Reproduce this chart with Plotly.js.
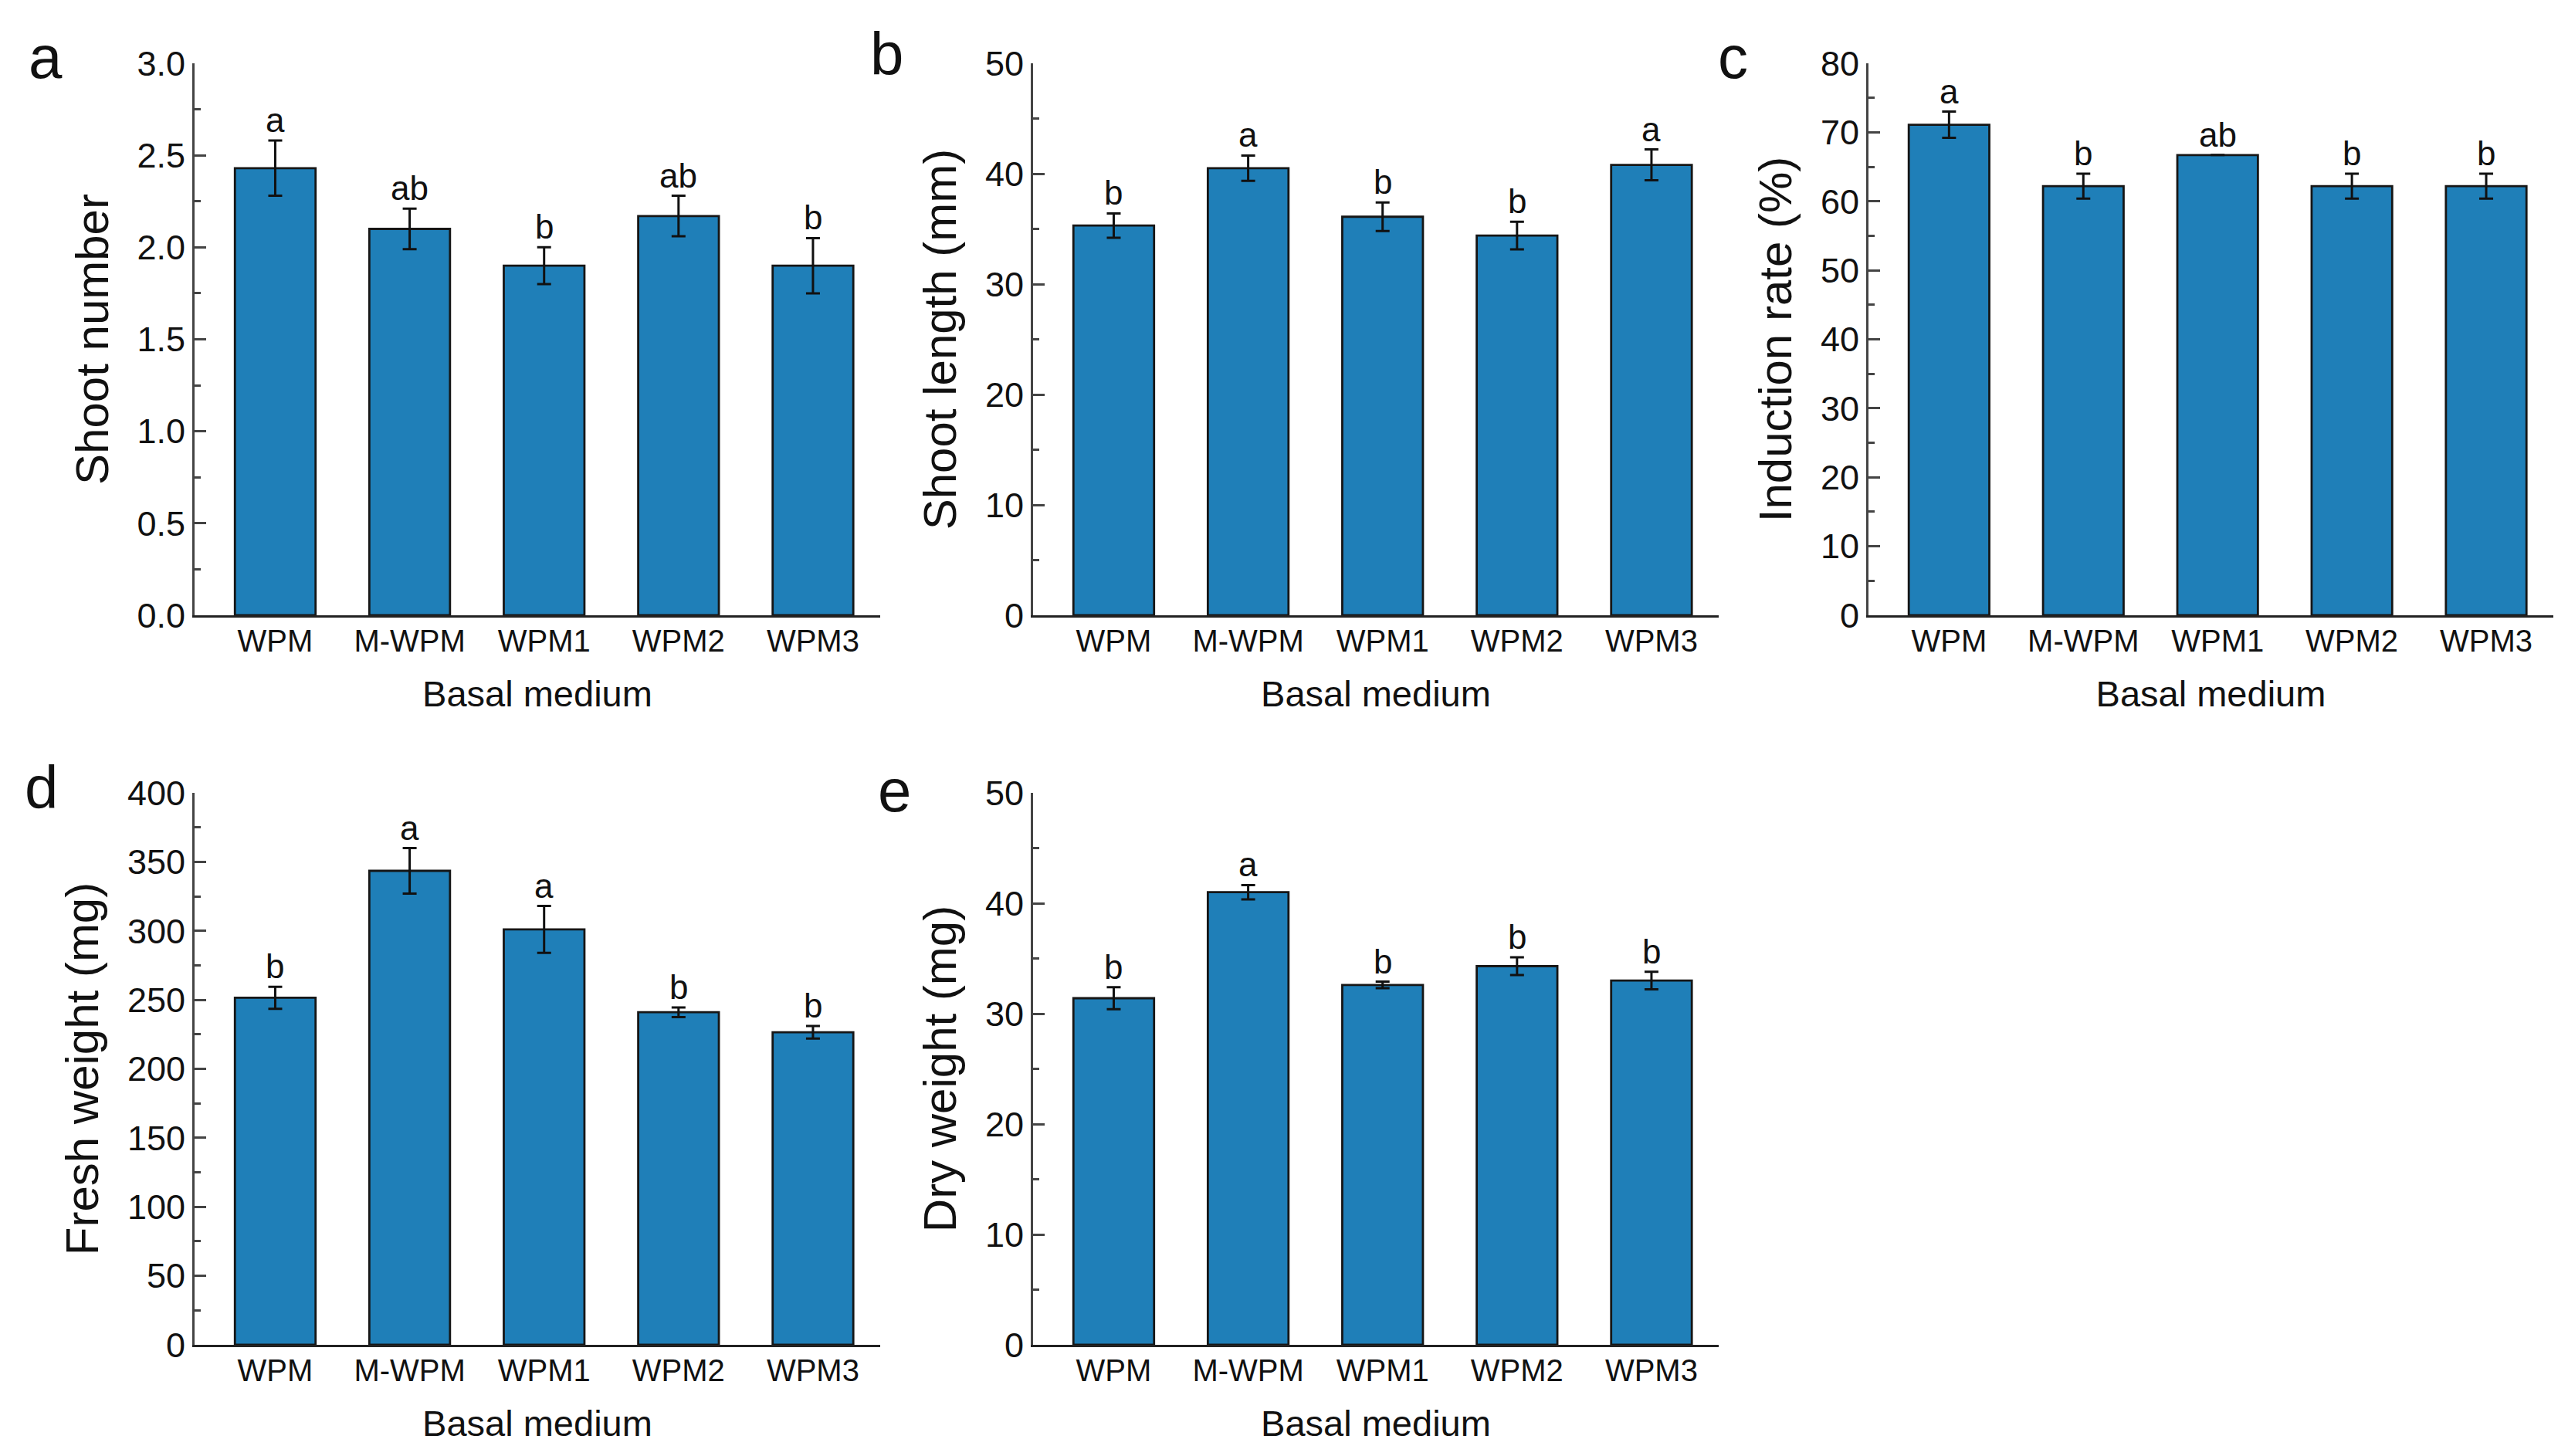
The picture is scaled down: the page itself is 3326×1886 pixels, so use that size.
<!DOCTYPE html>
<html>
<head>
<meta charset="utf-8">
<script src="https://cdn.plot.ly/plotly-3.0.1.min.js"></script>
<style>
  html, body { margin: 0; padding: 0; background: #ffffff; }
  #chart { width: 3326px; height: 1886px; }
</style>
</head>
<body>
<div id="chart"></div>
<script>
// ---- data ----
const categories = ['WPM', 'M-WPM', 'WPM1', 'WPM2', 'WPM3'];

const shootNumber = [2.43, 2.10, 1.90, 2.17, 1.90];
const shootNumberErr = [0.15, 0.11, 0.10, 0.11, 0.15];
const shootNumberLetters = ['a', 'ab', 'b', 'ab', 'b'];

const shootLength = [35.3, 40.5, 36.1, 34.4, 40.8];
const shootLengthErr = [1.1, 1.15, 1.3, 1.25, 1.4];
const shootLengthLetters = ['b', 'a', 'b', 'b', 'a'];

const inductionRate = [71.1, 62.2, 66.7, 62.2, 62.2];
const inductionRateErr = [1.9, 1.8, 0, 1.8, 1.8];
const inductionRateLetters = ['a', 'b', 'ab', 'b', 'b'];

const freshWeight = [251.5, 343.5, 301.0, 241.0, 226.5];
const freshWeightErr = [8, 16.5, 17, 3.5, 4.5];
const freshWeightLetters = ['b', 'a', 'a', 'b', 'b'];

const dryWeight = [31.4, 41.0, 32.6, 34.3, 33.0];
const dryWeightErr = [1.0, 0.65, 0.3, 0.8, 0.8];
const dryWeightLetters = ['b', 'a', 'b', 'b', 'b'];

const panelLabels = ['a', 'b', 'c', 'd', 'e'];
const yTitles = ['Shoot number', 'Shoot length (mm)', 'Induction rate (%)', 'Fresh weight (mg)', 'Dry weight (mg)'];
const xTitle = 'Basal medium';

// ---- styling / layout ----
const FONT = 'Arial, "Liberation Sans", Helvetica, sans-serif';
const BAR_COLOR = '#1f7fb8';
const W = 3326, H = 1886;

const panels = [
  {vals: shootNumber, errs: shootNumberErr, letters: shootNumberLetters, range: [0, 3], dtick: 0.5, minor: 0.25, fmt: '.1f', x: [252, 1140], y: [82, 797]},
  {vals: shootLength, errs: shootLengthErr, letters: shootLengthLetters, range: [0, 50], dtick: 10, minor: 5, fmt: 'd', x: [1338, 2226], y: [82, 797]},
  {vals: inductionRate, errs: inductionRateErr, letters: inductionRateLetters, range: [0, 80], dtick: 10, minor: 5, fmt: 'd', x: [2420, 3307], y: [82, 797]},
  {vals: freshWeight, errs: freshWeightErr, letters: freshWeightLetters, range: [0, 400], dtick: 50, minor: 25, fmt: 'd', x: [252, 1140], y: [1027, 1742]},
  {vals: dryWeight, errs: dryWeightErr, letters: dryWeightLetters, range: [0, 50], dtick: 10, minor: 5, fmt: 'd', x: [1338, 2226], y: [1027, 1742]}
];

const labelPos = [[59, 74], [1148, 70], [2244, 74], [53, 1020], [1158, 1024]];

const traces = [];
const layout = {
  width: W, height: H,
  margin: {l: 0, r: 0, t: 0, b: 0},
  paper_bgcolor: '#ffffff',
  plot_bgcolor: '#ffffff',
  showlegend: false,
  font: {family: FONT, color: '#111111'},
  bargap: 0.4,
  annotations: []
};

panels.forEach((p, i) => {
  const n = i === 0 ? '' : String(i + 1);
  const xa = 'x' + n, ya = 'y' + n;
  traces.push({
    type: 'bar',
    x: categories,
    y: p.vals,
    xaxis: xa, yaxis: ya,
    width: 0.6,
    marker: {color: BAR_COLOR, line: {color: '#161616', width: 2.8}},
    error_y: {type: 'data', array: p.errs, visible: true, color: '#111111', thickness: 3, width: 9},
    hoverinfo: 'x+y'
  });
  layout['xaxis' + n] = {
    domain: [p.x[0] / W, p.x[1] / W],
    anchor: ya,
    range: [-0.6, 4.5],
    type: 'category',
    showline: true, linewidth: 3, linecolor: '#222222',
    ticks: '', showgrid: false, zeroline: false,
    ticklabelstandoff: -4,
    tickfont: {family: FONT, size: 40, color: '#111111'},
    title: {text: xTitle, font: {family: FONT, size: 47, color: '#111111'}, standoff: 32},
    fixedrange: true
  };
  layout['yaxis' + n] = {
    domain: [1 - p.y[1] / H, 1 - p.y[0] / H],
    anchor: xa,
    range: p.range,
    dtick: p.dtick, tick0: 0,
    tickformat: p.fmt,
    showline: true, linewidth: 3, linecolor: '#444444',
    ticks: 'inside', ticklen: 15, tickwidth: 3, tickcolor: '#444444',
    minor: {dtick: p.minor, ticks: 'inside', ticklen: 8, tickwidth: 3, tickcolor: '#444444'},
    showgrid: false, zeroline: false,
    tickfont: {family: FONT, size: 45, color: '#111111'},
    title: {text: yTitles[i], font: {family: FONT, size: 60, color: '#111111'}, standoff: 18},
    fixedrange: true
  };
  // significance letters
  categories.forEach((c, k) => {
    layout.annotations.push({
      xref: xa, yref: ya,
      x: c, y: p.vals[k] + p.errs[k],
      text: p.letters[k],
      showarrow: false,
      yanchor: 'bottom',
      yshift: 0,
      font: {family: FONT, size: 44, color: '#111111'}
    });
  });
  // panel label
  layout.annotations.push({
    xref: 'paper', yref: 'paper',
    x: labelPos[i][0] / W, y: 1 - labelPos[i][1] / H,
    xanchor: 'center', yanchor: 'middle',
    text: panelLabels[i],
    showarrow: false,
    font: {family: FONT, size: 78, color: '#111111'}
  });
});

Plotly.newPlot('chart', traces, layout, {displayModeBar: false, staticPlot: true});
</script>
</body>
</html>
